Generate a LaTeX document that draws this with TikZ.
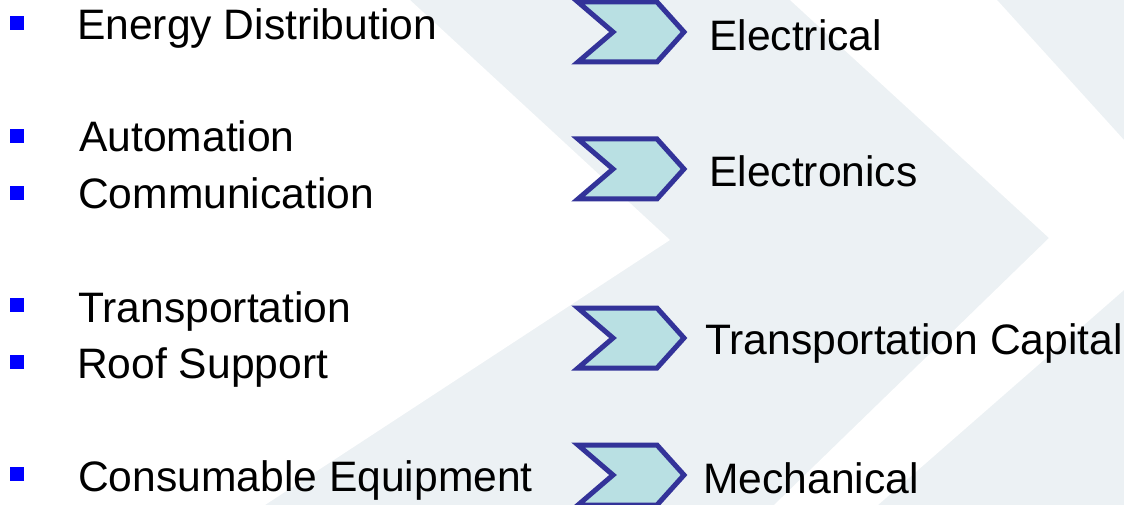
\documentclass[tikz,border=0pt]{standalone}
\usepackage{fontspec}
\setmainfont{Liberation Sans}
\definecolor{bgcol}{RGB}{236,241,244}
\definecolor{chevfill}{RGB}{185,224,227}
\definecolor{chevdraw}{RGB}{51,51,153}
\definecolor{bulblue}{RGB}{0,0,255}
\tikzset{
  lbl/.style={anchor=base west, inner sep=0pt, font=\fontsize{42.6}{50}\selectfont, text=black},
  bul/.style={fill=bulblue, minimum size=14pt, inner sep=0pt, draw=none},
  chevpath/.style={fill=chevfill, draw=chevdraw, line width=5pt, miter limit=10},
}
\begin{document}
\begin{tikzpicture}[x=1pt,y=-1pt]
\useasboundingbox (0,0) rectangle (1124,505);
% background watermark
\fill[bgcol] (0,0) rectangle (1124,505);
\fill[white] (0,0) -- (410,0) -- (670,240) -- (265,505) -- (0,505) -- cycle;
\fill[white] (790,0) -- (997,0) -- (1124,140) -- (1124,290) -- (878,505) -- (774,505) -- (1049,238) -- cycle;

% bullets
\node[bul] (b1) at (17,23) {};
\node[bul] (b2) at (17,136) {};
\node[bul] (b3) at (17,193) {};
\node[bul] (b4) at (17,305) {};
\node[bul] (b5) at (17,362) {};
\node[bul] (b6) at (17,473.5) {};

% left texts
\node[lbl] (t1) at (77,40) {Energy Distribution};
\node[lbl] (t2) at (79,152) {Automation};
\node[lbl] (t3) at (78,208) {Communication};
\node[lbl] (t4) at (78,322) {Transportation};
\node[lbl] (t5) at (77,378) {Roof Support};
\node[lbl] (t6) at (78,491) {Consumable Equipment};

% chevrons
\foreach \c/\n in {32/c1,169/c2,338/c3,475/c4}{
  \coordinate (\n) at (630,\c);
  \draw[chevpath] (578,{\c-30}) -- (657,{\c-30}) -- (684,\c) -- (657,{\c+30}) -- (578,{\c+30}) -- (613,\c) -- cycle;
}

% right texts
\node[lbl] (r1) at (709,51) {Electrical};
\node[lbl] (r2) at (709,186) {Electronics};
\node[lbl] (r3) at (705,354) {Transportation Capital};
\node[lbl] (r4) at (703,493) {Mechanical};
\end{tikzpicture}
\end{document}
